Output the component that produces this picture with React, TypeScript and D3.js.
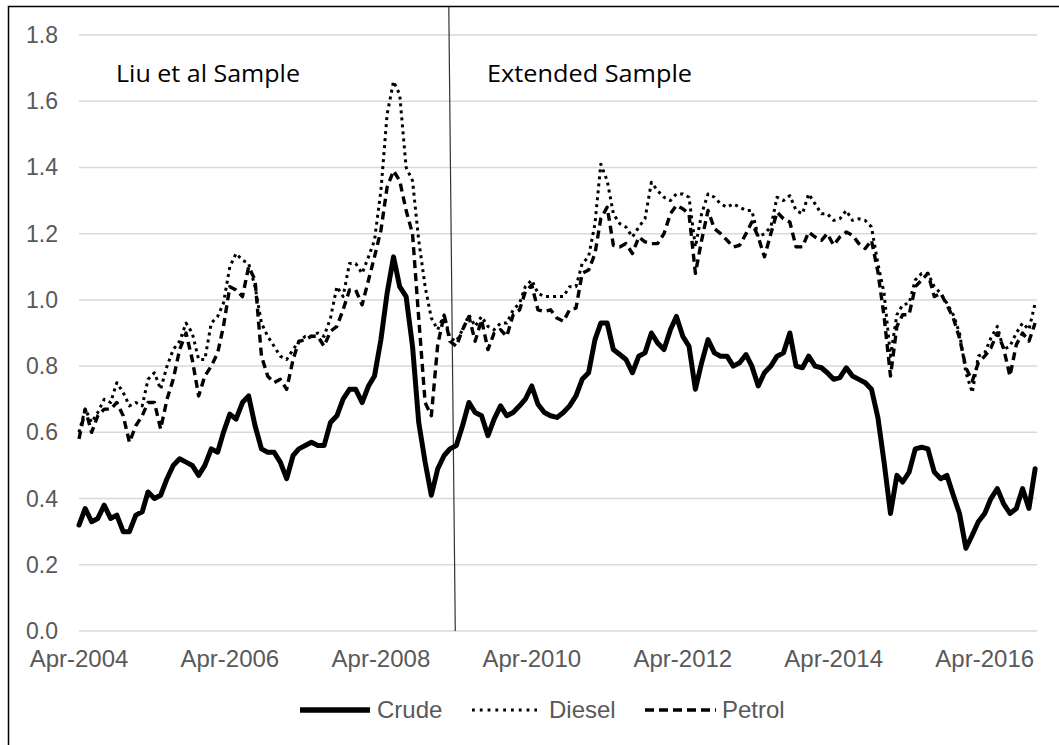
import React from "react";
import * as d3 from "d3";

// Monthly observations, Apr-2004 .. Dec-2016
const startMonth = new Date(2004, 3, 1);
const endMonth = new Date(2017, 0, 1);
const months: Date[] = d3.timeMonth.range(startMonth, endMonth);

const crude: number[] = [
  0.32, 0.37, 0.33, 0.34, 0.38, 0.34, 0.35, 0.30, 0.30, 0.35,
  0.36, 0.42, 0.40, 0.41, 0.46, 0.50, 0.52, 0.51, 0.50, 0.47,
  0.50, 0.55, 0.54, 0.60, 0.655, 0.64, 0.69, 0.71, 0.62, 0.55,
  0.54, 0.54, 0.51, 0.46, 0.53, 0.55, 0.56, 0.57, 0.56, 0.56,
  0.63, 0.65, 0.70, 0.73, 0.73, 0.69, 0.74, 0.77, 0.88, 1.02,
  1.13, 1.04, 1.01, 0.86, 0.63, 0.51, 0.41, 0.49, 0.53, 0.55,
  0.56, 0.62, 0.69, 0.66, 0.65, 0.59, 0.64, 0.68, 0.65, 0.66,
  0.68, 0.70, 0.74, 0.685, 0.66, 0.65, 0.645, 0.66, 0.68, 0.71,
  0.76, 0.78, 0.88, 0.93, 0.93, 0.85, 0.835, 0.82, 0.78, 0.83,
  0.84, 0.90, 0.87, 0.85, 0.91, 0.95, 0.89, 0.86, 0.73, 0.81,
  0.88, 0.84, 0.83, 0.83, 0.80, 0.81, 0.835, 0.80, 0.74, 0.78,
  0.80, 0.83, 0.84, 0.90, 0.80, 0.795, 0.83, 0.80, 0.795, 0.78,
  0.76, 0.765, 0.795, 0.77, 0.76, 0.75, 0.73, 0.645, 0.51, 0.355,
  0.47, 0.45, 0.48, 0.55, 0.555, 0.55, 0.48, 0.46, 0.47, 0.41,
  0.355, 0.25, 0.29, 0.33, 0.355, 0.40, 0.43, 0.385, 0.355, 0.37,
  0.43, 0.37, 0.49,
];

const diesel: number[] = [
  0.60, 0.67, 0.63, 0.66, 0.70, 0.69, 0.75, 0.72, 0.68, 0.69,
  0.68, 0.76, 0.78, 0.73, 0.80, 0.85, 0.875, 0.93, 0.90, 0.82,
  0.82, 0.93, 0.95, 0.99, 1.10, 1.14, 1.12, 1.11, 1.04, 0.93,
  0.89, 0.86, 0.83, 0.82, 0.85, 0.875, 0.89, 0.89, 0.90, 0.89,
  0.945, 1.04, 1.01, 1.11, 1.11, 1.08, 1.13, 1.18, 1.33, 1.56,
  1.66, 1.62, 1.40, 1.36, 1.18, 1.04, 0.945, 0.91, 0.955, 0.885,
  0.875, 0.91, 0.955, 0.92, 0.95, 0.92, 0.91, 0.93, 0.93, 0.97,
  0.99, 1.04, 1.06, 1.02, 1.01, 1.01, 1.01, 1.01, 1.04, 1.04,
  1.11, 1.13, 1.23, 1.41, 1.36, 1.26, 1.23, 1.22, 1.19, 1.22,
  1.245, 1.355, 1.33, 1.31, 1.30, 1.32, 1.32, 1.31, 1.16, 1.26,
  1.32, 1.31, 1.29, 1.28, 1.29, 1.28, 1.27, 1.27, 1.19, 1.20,
  1.22, 1.31, 1.30, 1.315, 1.27, 1.26, 1.32, 1.29, 1.26, 1.26,
  1.24, 1.245, 1.27, 1.24, 1.245, 1.24, 1.22, 1.11, 1.02, 0.83,
  0.955, 0.985, 0.99, 1.06, 1.08, 1.08, 1.04, 1.02, 0.99, 0.955,
  0.90, 0.78, 0.72, 0.83, 0.84, 0.885, 0.92, 0.85, 0.86, 0.90,
  0.93, 0.91, 0.99,
];

const petrol: number[] = [
  0.58, 0.67, 0.60, 0.65, 0.67, 0.67, 0.69, 0.65, 0.57, 0.62,
  0.65, 0.69, 0.69, 0.61, 0.70, 0.76, 0.85, 0.90, 0.82, 0.71,
  0.77, 0.80, 0.84, 0.92, 1.04, 1.03, 1.01, 1.10, 1.06, 0.83,
  0.77, 0.75, 0.76, 0.73, 0.82, 0.875, 0.88, 0.89, 0.89, 0.86,
  0.905, 0.92, 0.97, 1.03, 1.03, 0.985, 1.06, 1.13, 1.21, 1.34,
  1.39, 1.36, 1.27, 1.20, 0.945, 0.69, 0.65, 0.865, 0.955, 0.875,
  0.86, 0.91, 0.95, 0.875, 0.94, 0.85, 0.90, 0.91, 0.89, 0.955,
  0.97, 1.025, 1.045, 0.97, 0.965, 0.97, 0.945, 0.935, 0.97, 0.975,
  1.08, 1.09, 1.14, 1.245, 1.28, 1.165, 1.16, 1.17, 1.14, 1.19,
  1.175, 1.17, 1.17, 1.20, 1.26, 1.285, 1.275, 1.26, 1.08, 1.18,
  1.27, 1.215, 1.20, 1.18, 1.16, 1.165, 1.20, 1.235, 1.19, 1.13,
  1.20, 1.265, 1.245, 1.235, 1.16, 1.16, 1.205, 1.19, 1.18, 1.20,
  1.165, 1.19, 1.205, 1.195, 1.17, 1.155, 1.18, 1.085, 0.95, 0.77,
  0.92, 0.955, 0.955, 1.04, 1.06, 1.08, 1.01, 1.02, 0.985, 0.945,
  0.885, 0.795, 0.755, 0.81, 0.83, 0.855, 0.90, 0.855, 0.77, 0.865,
  0.90, 0.875, 0.93,
];

const yTicks: number[] = [0, 0.2, 0.4, 0.6, 0.8, 1.0, 1.2, 1.4, 1.6, 1.8];
const xTickDates: Date[] = [2004, 2006, 2008, 2010, 2012, 2014, 2016].map(
  (y) => new Date(y, 3, 1)
);
const xTickFormat = d3.timeFormat("%b-%Y");
const splitDate = new Date(2009, 2, 10);
const sampleLabels: string[] = ["Liu et al Sample", "Extended Sample"];
const seriesNames: string[] = ["Crude", "Diesel", "Petrol"];

const W = 1059;
const H = 745;

export default function App() {
  const x = d3
    .scaleTime()
    .domain([new Date(2004, 3, 1), new Date(2016, 11, 10)])
    .range([79, 1037]);
  const y = d3.scaleLinear().domain([0, 1.8]).range([631, 35]);

  const mk = (vals: number[]) =>
    d3
      .line<number>()
      .x((_, i) => x(months[i]))
      .y((v) => y(v))(vals) || "";

  const axisFont = "'Liberation Sans', Arial, sans-serif";
  const labelFont = "'Open Sans', Lato, sans-serif";
  const grey = "#595959";

  const splitX = x(splitDate);

  const legendY = 710;
  const legendItems = [
    { name: seriesNames[0], x0: 300, x1: 370, tx: 377, w: 5.5, dash: undefined as string | undefined },
    { name: seriesNames[1], x0: 472, x1: 537, tx: 549, w: 2.8, dash: "2.8,5" },
    { name: seriesNames[2], x0: 645, x1: 716, tx: 722, w: 3.5, dash: "9,5" },
  ];

  return (
    <svg
      width={W}
      height={H}
      style={{ position: "absolute", left: 0, top: 0, background: "#fff" }}
    >
      <rect x={0} y={0} width={W} height={H} fill="#fff" />
      <rect
        x={8.5}
        y={6.5}
        width={1200}
        height={900}
        fill="none"
        stroke="#000"
        strokeWidth={1.5}
      />
      {yTicks.map((t) => (
        <g key={t}>
          <line
            x1={x.range()[0]}
            x2={x.range()[1]}
            y1={y(t)}
            y2={y(t)}
            stroke="#d9d9d9"
            strokeWidth={1.5}
          />
          <text
            x={58}
            y={y(t) + 8}
            textAnchor="end"
            fontFamily={axisFont}
            fontSize={23}
            fill={grey}
          >
            {t.toFixed(1)}
          </text>
        </g>
      ))}
      {xTickDates.map((d) => (
        <text
          key={+d}
          x={x(d)}
          y={667}
          textAnchor="middle"
          fontFamily={axisFont}
          fontSize={24}
          fill={grey}
        >
          {xTickFormat(d)}
        </text>
      ))}
      <line
        x1={splitX - 3}
        y1={7}
        x2={splitX + 3.5}
        y2={y(0)}
        stroke="#333"
        strokeWidth={1.2}
      />
      <text
        x={116}
        y={82}
        fontFamily={labelFont}
        fontSize={24}
        fill="#000"
        textLength={184}
        lengthAdjust="spacingAndGlyphs"
      >
        {sampleLabels[0]}
      </text>
      <text
        x={487}
        y={82}
        fontFamily={labelFont}
        fontSize={24}
        fill="#000"
        textLength={205}
        lengthAdjust="spacingAndGlyphs"
      >
        {sampleLabels[1]}
      </text>
      <path
        d={mk(diesel)}
        fill="none"
        stroke="#000"
        strokeWidth={3}
        strokeDasharray="3,4"
        strokeLinejoin="round"
      />
      <path
        d={mk(petrol)}
        fill="none"
        stroke="#000"
        strokeWidth={3.4}
        strokeDasharray="8,5"
        strokeLinejoin="round"
      />
      <path
        d={mk(crude)}
        fill="none"
        stroke="#000"
        strokeWidth={5}
        strokeLinejoin="round"
        strokeLinecap="round"
      />
      {legendItems.map((it) => (
        <g key={it.name}>
          <line
            x1={it.x0}
            x2={it.x1}
            y1={legendY}
            y2={legendY}
            stroke="#000"
            strokeWidth={it.w}
            strokeDasharray={it.dash}
          />
          <text
            x={it.tx}
            y={legendY + 8}
            fontFamily={axisFont}
            fontSize={24}
            fill={grey}
          >
            {it.name}
          </text>
        </g>
      ))}
    </svg>
  );
}
